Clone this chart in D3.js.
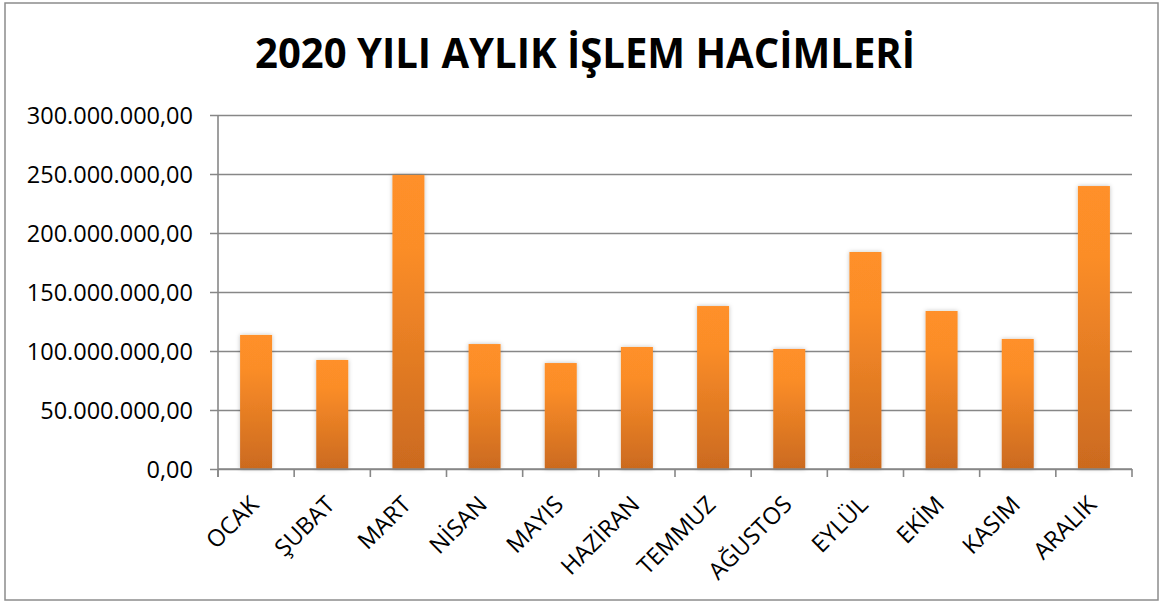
<!DOCTYPE html>
<html>
<head>
<meta charset="utf-8">
<script src="https://cdn.jsdelivr.net/npm/d3@7"></script>
<style>
  body { margin: 0; background: #fff; }
  svg text { font-family: 'Open Sans', sans-serif; fill: #000; }
</style>
</head>
<body>
<div id="chart"></div>
<script>
const months = ['OCAK', 'ŞUBAT', 'MART', 'NİSAN', 'MAYIS', 'HAZİRAN', 'TEMMUZ', 'AĞUSTOS', 'EYLÜL', 'EKİM', 'KASIM', 'ARALIK'];
const volumes = [113600000, 92400000, 249200000, 105900000, 89800000, 103400000, 138100000, 101700000, 183900000, 133900000, 110200000, 239800000];
const yTicks = [0, 50000000, 100000000, 150000000, 200000000, 250000000, 300000000];
const title = '2020 YILI AYLIK İŞLEM HACİMLERİ';

const W = 1161, H = 603;
const margin = { top: 115, right: 29, bottom: 134, left: 218 };
const width = W - margin.left - margin.right,
  height = H - margin.top - margin.bottom;

const svg = d3.select('#chart').append('svg')
  .attr('width', W)
  .attr('height', H);

const defs = svg.append('defs');
const grad = defs.append('linearGradient')
  .attr('id', 'barGrad')
  .attr('x1', 0).attr('y1', 0).attr('x2', 0).attr('y2', 1);
grad.append('stop').attr('offset', '0%').attr('stop-color', '#ff9029');
grad.append('stop').attr('offset', '25%').attr('stop-color', '#fb8d28');
grad.append('stop').attr('offset', '100%').attr('stop-color', '#cb6a1f');

const shadow = defs.append('filter').attr('id', 'shadow')
  .attr('x', '-30%').attr('y', '-10%').attr('width', '160%').attr('height', '120%');
shadow.append('feDropShadow')
  .attr('dx', 0).attr('dy', 0).attr('stdDeviation', 2)
  .attr('flood-color', '#000').attr('flood-opacity', 0.25);

// outer frame
svg.append('rect')
  .attr('x', 5).attr('y', 3)
  .attr('width', 1153).attr('height', 597)
  .attr('fill', 'none')
  .attr('stroke', '#8c8c8c')
  .attr('stroke-width', 1.5);

svg.append('text')
  .attr('x', 585).attr('y', 68)
  .attr('text-anchor', 'middle')
  .attr('font-weight', 'bold')
  .attr('font-size', 41)
  .attr('textLength', 660)
  .attr('lengthAdjust', 'spacingAndGlyphs')
  .text(title);

const g = svg.append('g')
  .attr('transform', `translate(${margin.left},${margin.top})`);

const x = d3.scaleBand().domain(months).range([0, width]).paddingInner(0.58).paddingOuter(0.29);
const y = d3.scaleLinear().domain([0, 300000000]).range([height, 0]);

const fmt = (v) => d3.format(',.2f')(v).replace(/,/g, '#').replace('.', ',').replace(/#/g, '.');

// gridlines + y axis
const yAxis = g.append('g')
  .call(d3.axisLeft(y).tickValues(yTicks).tickSizeInner(-width).tickSizeOuter(0).tickFormat(fmt));
yAxis.select('.domain').remove();
yAxis.selectAll('.tick line')
  .attr('x1', -8)
  .attr('stroke', '#878787')
  .attr('stroke-width', 1.6);
yAxis.selectAll('.tick text')
  .attr('x', -25)
  .attr('font-size', 23.5)
  .attr('dy', '0.35em');

g.append('line')
  .attr('x1', 0).attr('x2', 0)
  .attr('y1', 0).attr('y2', height + 8)
  .attr('stroke', '#878787')
  .attr('stroke-width', 1.6);

// bars
g.selectAll('.bar')
  .data(months)
  .enter().append('rect')
  .attr('class', 'bar')
  .attr('x', (d) => x(d))
  .attr('y', (d, i) => y(volumes[i]))
  .attr('width', x.bandwidth())
  .attr('height', (d, i) => height - y(volumes[i]))
  .attr('fill', 'url(#barGrad)')
  .attr('filter', 'url(#shadow)');

// x axis
const step = x.step();
const xAxis = g.append('g')
  .attr('transform', `translate(0,${height})`);
xAxis.append('line')
  .attr('x1', 0).attr('x2', width)
  .attr('stroke', '#878787')
  .attr('stroke-width', 1.6);
xAxis.selectAll('.xtick')
  .data(d3.range(months.length + 1))
  .enter().append('line')
  .attr('x1', (d) => d * step).attr('x2', (d) => d * step)
  .attr('y1', 0).attr('y2', 8)
  .attr('stroke', '#878787')
  .attr('stroke-width', 1.6);
xAxis.selectAll('.xlabel')
  .data(months)
  .enter().append('text')
  .attr('text-anchor', 'end')
  .attr('font-size', 23.5)
  .attr('transform', (d) => `translate(${x(d) + x.bandwidth() / 2 + 4},${37}) rotate(-45)`)
  .text((d) => d);
</script>
</body>
</html>
